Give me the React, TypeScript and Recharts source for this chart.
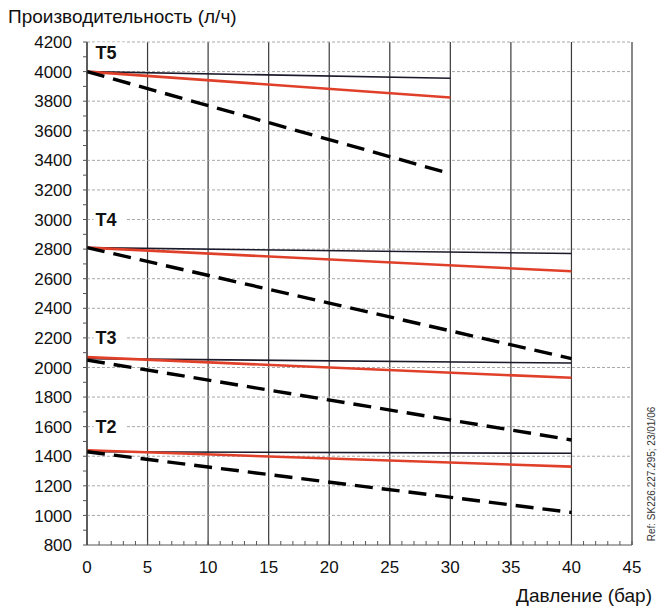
import { LineChart, Line, XAxis, YAxis, CartesianGrid, ReferenceDot, ReferenceLine } from 'recharts'

// pressure (bar) at the ends of each curve
const shortRun = [0, 30]
const longRun = [0, 40]

// flow rate (l/h) — solid black, red, dashed black
const t5Black = [4000, 3955]
const t5Red = [4000, 3825]
const t5Dashed = [4000, 3310]

const t4Black = [2810, 2770]
const t4Red = [2810, 2650]
const t4Dashed = [2810, 2060]

const t3Black = [2060, 2030]
const t3Red = [2070, 1930]
const t3Dashed = [2050, 1510]

const t2Black = [1430, 1420]
const t2Red = [1440, 1330]
const t2Dashed = [1430, 1020]

const xMajor = [0, 5, 10, 15, 20, 25, 30, 35, 40, 45]
const yMajor = [800, 1000, 1200, 1400, 1600, 1800, 2000, 2200, 2400, 2600, 2800, 3000, 3200, 3400, 3600, 3800, 4000, 4200]
const xMinor = Array.from({ length: 46 }, (_, i) => i)
const yMinor = Array.from({ length: 35 }, (_, i) => 800 + i * 100)

const tags = [
  { name: 'T5', y: 4130 },
  { name: 'T4', y: 3000 },
  { name: 'T3', y: 2200 },
  { name: 'T2', y: 1600 },
]

const FONT = '"Liberation Sans", Arial, sans-serif'

const toPoints = (xs: number[], ys: number[]) => xs.map((x, i) => ({ x, y: ys[i] }))

const series = [
  { key: 't5b', data: toPoints(shortRun, t5Black), kind: 'black' },
  { key: 't5r', data: toPoints(shortRun, t5Red), kind: 'red' },
  { key: 't5d', data: toPoints(shortRun, t5Dashed), kind: 'dashed' },
  { key: 't4b', data: toPoints(longRun, t4Black), kind: 'black' },
  { key: 't4r', data: toPoints(longRun, t4Red), kind: 'red' },
  { key: 't4d', data: toPoints(longRun, t4Dashed), kind: 'dashed' },
  { key: 't3b', data: toPoints(longRun, t3Black), kind: 'black' },
  { key: 't3r', data: toPoints(longRun, t3Red), kind: 'red' },
  { key: 't3d', data: toPoints(longRun, t3Dashed), kind: 'dashed' },
  { key: 't2b', data: toPoints(longRun, t2Black), kind: 'black' },
  { key: 't2r', data: toPoints(longRun, t2Red), kind: 'red' },
  { key: 't2d', data: toPoints(longRun, t2Dashed), kind: 'dashed' },
]

const lineStyle: Record<string, { stroke: string; strokeWidth: number; strokeDasharray?: string }> = {
  black: { stroke: '#1a1a2a', strokeWidth: 1.6 },
  red: { stroke: '#e0402a', strokeWidth: 2.6 },
  dashed: { stroke: '#000', strokeWidth: 3.4, strokeDasharray: '18 9' },
}

function XTick(props: any) {
  const { x, y, payload } = props
  const v = payload.value
  const major = v % 5 === 0
  return (
    <g>
      <line x1={x} x2={x} y1={y} y2={y - 4} stroke="#555" strokeWidth={1} />
      {major && (
        <text x={x} y={y + 28} textAnchor="middle" fontSize={17} fontFamily={FONT} fill="#111">
          {v}
        </text>
      )}
    </g>
  )
}

function YTick(props: any) {
  const { x, y, payload } = props
  const v = payload.value
  const major = v % 200 === 0
  return (
    <g>
      <line x1={x - 4} x2={x} y1={y} y2={y} stroke="#555" strokeWidth={1} />
      {major && (
        <text x={x - 15} y={y} dy="0.36em" textAnchor="end" fontSize={17} fontFamily={FONT} fill="#111">
          {v}
        </text>
      )}
    </g>
  )
}

function tagLabel(name: string) {
  return (props: any) => {
    const { viewBox } = props
    const x = viewBox.x
    const y = viewBox.y + (viewBox.height || 0) / 2
    return (
      <g>
        <rect x={x - 2} y={y - 10} width={32} height={20} fill="#fff" />
        <text x={x} y={y} dy="0.36em" fontSize={18} fontWeight="bold" fontFamily={FONT} fill="#111">
          {name}
        </text>
      </g>
    )
  }
}

export default function App() {
  return (
    <div style={{ position: 'absolute', left: 0, top: 0, width: 669, height: 609, background: '#fff', fontFamily: FONT }}>
      <div style={{ position: 'absolute', left: 8, top: 6, fontSize: 19, color: '#111', whiteSpace: 'nowrap' }}>
        Производительность (л/ч)
      </div>
      <LineChart
        width={669}
        height={609}
        margin={{ top: 42, right: 37, left: 0, bottom: 24 }}
      >
        <CartesianGrid
          horizontal={false}
          vertical={true}
          verticalValues={xMajor}
          stroke="#3a3a3a"
          strokeWidth={1.2}
        />
        {yMajor.slice(1).map((v) => (
          <ReferenceLine
            key={v}
            y={v}
            stroke="#a8a8a8"
            strokeWidth={1}
            strokeDasharray="3 2"
          />
        ))}
        <XAxis
          type="number"
          dataKey="x"
          domain={[0, 45]}
          ticks={xMinor}
          interval={0}
          height={40}
          tickLine={false}
          tickSize={0}
          tickMargin={0}
          stroke="#555"
          tick={<XTick />}
          allowDuplicatedCategory={false}
        />
        <YAxis
          type="number"
          dataKey="y"
          domain={[800, 4200]}
          ticks={yMinor}
          interval={0}
          width={87}
          tickLine={false}
          tickSize={0}
          tickMargin={0}
          stroke="#333"
          tick={<YTick />}
        />
        {series.map((s) => (
          <Line
            key={s.key}
            data={s.data}
            dataKey="y"
            type="linear"
            dot={false}
            activeDot={false}
            isAnimationActive={false}
            {...lineStyle[s.kind]}
          />
        ))}
        {tags.map((t) => (
          <ReferenceDot
            key={t.name}
            x={0.7}
            y={t.y}
            r={0}
            fill="none"
            stroke="none"
            label={tagLabel(t.name)}
          />
        ))}
      </LineChart>
      <div style={{ position: 'absolute', right: 17, top: 585, fontSize: 19, color: '#111', whiteSpace: 'nowrap' }}>
        Давление (бар)
      </div>
      <div
        style={{
          position: 'absolute',
          left: 651,
          top: 474,
          fontSize: 10,
          color: '#333',
          whiteSpace: 'nowrap',
          transform: 'translate(-50%, -50%) rotate(-90deg)',
        }}
      >
        Ref: SK226.227.295; 23/01/06
      </div>
    </div>
  )
}
